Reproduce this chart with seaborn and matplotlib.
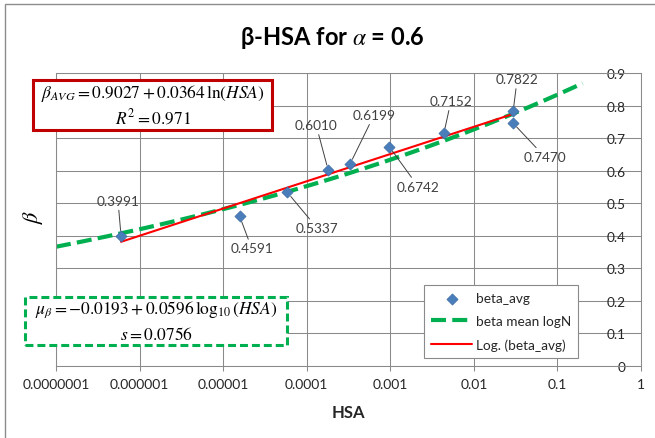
import numpy as np
import pandas as pd
import matplotlib
matplotlib.use("Agg")
import matplotlib.pyplot as plt
from matplotlib.patches import Rectangle
from matplotlib.ticker import NullLocator
import seaborn as sns

# Measured points: HSA vs average beta
hsa = [6.0e-7, 1.58e-5, 5.85e-5, 1.81e-4, 3.29e-4, 9.7e-4, 4.38e-3, 0.0295, 0.0293]
beta_avg = [0.3991, 0.4591, 0.5337, 0.6010, 0.6199, 0.6742, 0.7152, 0.7822, 0.7470]

# Logarithmic trend line: beta = a + b ln(HSA)
fit_intercept = 0.9027
fit_slope = 0.0364
fit_r2 = 0.971

# Lognormal mean: mu = c + d log10(HSA), beta = 10**mu
mu_intercept = -0.0193
mu_slope = 0.0596
mu_s = 0.0756
mu_range = [1e-7, 0.2]

x_ticks = [1e-7, 1e-6, 1e-5, 1e-4, 1e-3, 1e-2, 1e-1, 1]
x_tick_labels = ["0.0000001", "0.000001", "0.00001", "0.0001", "0.001", "0.01", "0.1", "1"]
y_ticks = [0, 0.1, 0.2, 0.3, 0.4, 0.5, 0.6, 0.7, 0.8, 0.9]
y_tick_labels = ["0", "0.1", "0.2", "0.3", "0.4", "0.5", "0.6", "0.7", "0.8", "0.9"]

# Offsets (pixels) of each value label from its point
label_offsets = [(-3, 35), (12, -32), (30, -36), (-12, 45), (24, 49),
                 (29, -40), (7, 32), (4, 32), (32, -34)]

sns.set_theme(style="white")
plt.rcParams["font.family"] = ["Lato", "DejaVu Sans"]
plt.rcParams["mathtext.fontset"] = "stix"

W, H = 655, 439
fig = plt.figure(figsize=(W / 100, H / 100), dpi=100)
fig.patch.set_facecolor("white")


def fx(px):
    return px / W


def fy(py):
    return 1 - py / H


ax_left, ax_right, ax_top, ax_bottom = 56, 641, 74.2, 366.7
ax = fig.add_axes([fx(ax_left), fy(ax_bottom), fx(ax_right - ax_left), (ax_bottom - ax_top) / H])
ax.set_xscale("log")
ax.set_xlim(1e-7, 1)
ax.set_ylim(0, 0.9)

grid_col = "#8a8a8a"
ax.grid(True, which="major", color=grid_col, lw=0.75)
ax.set_axisbelow(True)
for sp in ax.spines.values():
    sp.set_color(grid_col)
    sp.set_linewidth(0.75)

# Curves
df_pts = pd.DataFrame({"HSA": hsa, "beta": beta_avg})
x_fit = np.logspace(np.log10(min(hsa)), np.log10(max(hsa)), 100)
df_fit = pd.DataFrame({"HSA": x_fit, "beta": fit_intercept + fit_slope * np.log(x_fit)})
x_mu = np.logspace(np.log10(mu_range[0]), np.log10(mu_range[1]), 200)
df_mu = pd.DataFrame({"HSA": x_mu, "beta": 10 ** (mu_intercept + mu_slope * np.log10(x_mu))})

sns.lineplot(data=df_mu, x="HSA", y="beta", ax=ax, color="#00B050", lw=3.0,
             linestyle=(0, (3.6, 1.5)), label="beta mean logN", errorbar=None, zorder=2)
sns.lineplot(data=df_fit, x="HSA", y="beta", ax=ax, color="#FF0000", lw=1.5,
             label="Log. (beta_avg)", errorbar=None, zorder=2.5)
sns.scatterplot(data=df_pts, x="HSA", y="beta", ax=ax, marker="D", s=32,
                color="#4A7EBB", edgecolor="#3B6AA5", linewidth=0.5,
                label="beta_avg", zorder=3)

# Value labels with leader lines
for x, b, (dx, dy) in zip(hsa, beta_avg, label_offsets):
    ax.annotate(f"{b:.4f}", xy=(x, b), xytext=(dx, dy), textcoords="offset pixels",
                ha="center", va="center", fontsize=9.8, color="#404040",
                arrowprops=dict(arrowstyle="-", color="#404040", lw=0.7,
                                shrinkA=0, shrinkB=4))

# Axes ticks
ax.set_xticks(x_ticks)
ax.set_xticklabels(x_tick_labels)
ax.xaxis.set_minor_locator(NullLocator())
ax.tick_params(axis="x", which="major", direction="out", length=3.6, width=0.75,
               color=grid_col, pad=5, labelsize=10, labelcolor="#262626", bottom=True)
ax.yaxis.tick_right()
ax.set_yticks(y_ticks)
ax.set_yticklabels(y_tick_labels, ha="right")
ax.tick_params(axis="y", length=0, pad=-10.8, labelsize=9.8, labelcolor="#262626")

ax.set_xlabel("HSA", fontsize=12, fontweight="bold", color="#262626", va="center")
ax.xaxis.set_label_coords(0.5, -0.159)
ax.set_ylabel("")

# Legend
handles, labels = ax.get_legend_handles_labels()
order = [labels.index(n) for n in ["beta_avg", "beta mean logN", "Log. (beta_avg)"]]
leg = ax.legend([handles[i] for i in order], [labels[i] for i in order],
                loc="lower left", bbox_to_anchor=(0.629, 0.026), borderaxespad=0,
                frameon=True, fancybox=False, edgecolor=grid_col, framealpha=1,
                fontsize=9.8, handlelength=3.0, handletextpad=0.25,
                labelspacing=0.8, borderpad=0.55)
leg.get_frame().set_linewidth(0.8)
for t in leg.get_texts():
    t.set_color("#262626")

# Title and y label
fig.text(fx(332), fy(38), r"β-HSA for $\alpha$ = 0.6", ha="center", va="center",
         fontsize=17, fontweight="bold", color="black")
fig.text(fx(33), fy(217), r"$\beta$", rotation=90, ha="center", va="center",
         fontsize=16, color="black")

# Equation boxes
fig.add_artist(Rectangle((fx(33), fy(131)), fx(272 - 33), (131 - 81) / H,
                         facecolor="white", edgecolor="#C00000", lw=2.2, zorder=5))
fig.text(fx(152.5), fy(94), f"$\\beta_{{AVG}} = {fit_intercept} + {fit_slope}\\,\\ln(HSA)$",
         ha="center", va="center", fontsize=12.5, color="black", zorder=6)
fig.text(fx(152.5), fy(117), f"$R^2 = {fit_r2}$",
         ha="center", va="center", fontsize=12.5, color="black", zorder=6)

fig.add_artist(Rectangle((fx(25), fy(346)), fx(287 - 25), (346 - 297.7) / H,
                         facecolor="white", edgecolor="#00B050", lw=2.2,
                         linestyle=(0, (2.6, 1.3)), zorder=5))
fig.text(fx(156), fy(310), f"$\\mu_\\beta = {mu_intercept:.4f} + {mu_slope}\\,\\log_{{10}}(HSA)$",
         ha="center", va="center", fontsize=12.5, color="black", zorder=6)
fig.text(fx(156), fy(335), f"$s = {mu_s}$",
         ha="center", va="center", fontsize=12.5, color="black", zorder=6)

# Chart border
fig.add_artist(Rectangle((fx(5), fy(460)), 1.2, 455 / H, facecolor="none",
                         edgecolor="#8c8c8c", lw=1.0, zorder=0.5))

fig.savefig("out.png", dpi=100, facecolor="white")
